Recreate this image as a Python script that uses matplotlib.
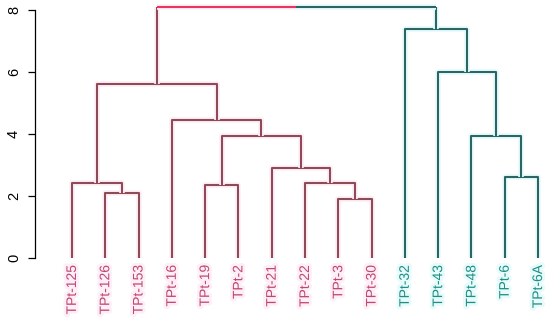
import matplotlib
matplotlib.use("Agg")
import matplotlib.pyplot as plt
import matplotlib.patheffects as pe

# leaf order along the x axis
labels = ["TPt-125", "TPt-126", "TPt-153", "TPt-16", "TPt-19", "TPt-2", "TPt-21",
          "TPt-22", "TPt-3", "TPt-30", "TPt-32", "TPt-43", "TPt-48", "TPt-6", "TPt-6A"]

# merges: children are leaf names or "m<k>" for an earlier merge
merge_left = ["TPt-3", "TPt-126", "TPt-19", "TPt-125", "TPt-22", "TPt-6", "TPt-21",
              "m2", "TPt-48", "TPt-16", "m3", "TPt-43", "TPt-32", "m10"]
merge_right = ["TPt-30", "TPt-153", "TPt-2", "m1", "m0", "TPt-6A", "m4",
               "m6", "m5", "m7", "m9", "m8", "m11", "m12"]
merge_height = [1.90, 2.10, 2.35, 2.42, 2.42, 2.61, 2.90,
                3.94, 3.94, 4.45, 5.61, 6.00, 7.39, 8.10]

pink_line, pink_text, pink_halo = "#8e4a55", "#c0486e", "#fdeef7"
teal_line, teal_text, teal_halo = "#2c6565", "#1f8f86", "#e6fbfa"
root_red = "#e83560"

plt.rcParams["font.family"] = ["Liberation Sans", "DejaVu Sans"]

fig = plt.figure(figsize=(5.5, 3.2), dpi=100)
ax = fig.add_axes([35 / 550, 62 / 320, 515 / 550, 254 / 320])

pos = {name: (i + 1, 0.0) for i, name in enumerate(labels)}
group = {name: ("pink" if i < 10 else "teal") for i, name in enumerate(labels)}
styles = {"pink": (pink_line, pink_halo), "teal": (teal_line, teal_halo)}


def seg(xs, ys, color, halo):
    ax.plot(xs, ys, color=color, lw=1.5, solid_capstyle="butt",
            path_effects=[pe.Stroke(linewidth=4, foreground=halo), pe.Normal()])


for k, (a, b, h) in enumerate(zip(merge_left, merge_right, merge_height)):
    xa, ya = pos[a]
    xb, yb = pos[b]
    if group[a] == group[b]:
        c, hl = styles[group[a]]
        seg([xa, xa, xb, xb], [ya, h, h, yb], c, hl)
        group["m%d" % k] = group[a]
    else:
        # root: split colour halfway along the top bar
        xm = (xa + xb) / 2
        seg([xa, xa], [ya, h], pink_line, pink_halo)
        seg([xb, xb], [yb, h], teal_line, teal_halo)
        seg([xa, xm], [h, h], root_red, pink_halo)
        seg([xm, xb], [h, h], teal_line, teal_halo)
        group["m%d" % k] = "root"
    pos["m%d" % k] = ((xa + xb) / 2, h)

ax.set_xlim(-0.11, 15.36)
ax.set_ylim(0, 8.2)
ax.set_xticks(range(1, len(labels) + 1))
ax.set_xticklabels(labels, rotation=90, fontsize=10)
for i, t in enumerate(ax.get_xticklabels()):
    col = pink_text if i < 10 else teal_text
    halo = pink_halo if i < 10 else teal_halo
    t.set_color(col)
    t.set_path_effects([pe.Stroke(linewidth=4, foreground=halo), pe.Normal()])
ax.tick_params(axis="x", length=0, pad=5)

ax.set_yticks([0, 2, 4, 6, 8])
ax.set_yticklabels(["0", "2", "4", "6", "8"], rotation=90, va="center", fontsize=10.5)
ax.tick_params(axis="y", length=5, width=0.9, pad=5)
for s in ["top", "right", "bottom"]:
    ax.spines[s].set_visible(False)
ax.spines["left"].set_bounds(0, 8)
ax.spines["left"].set_linewidth(0.9)

fig.savefig("out.png", dpi=100)
